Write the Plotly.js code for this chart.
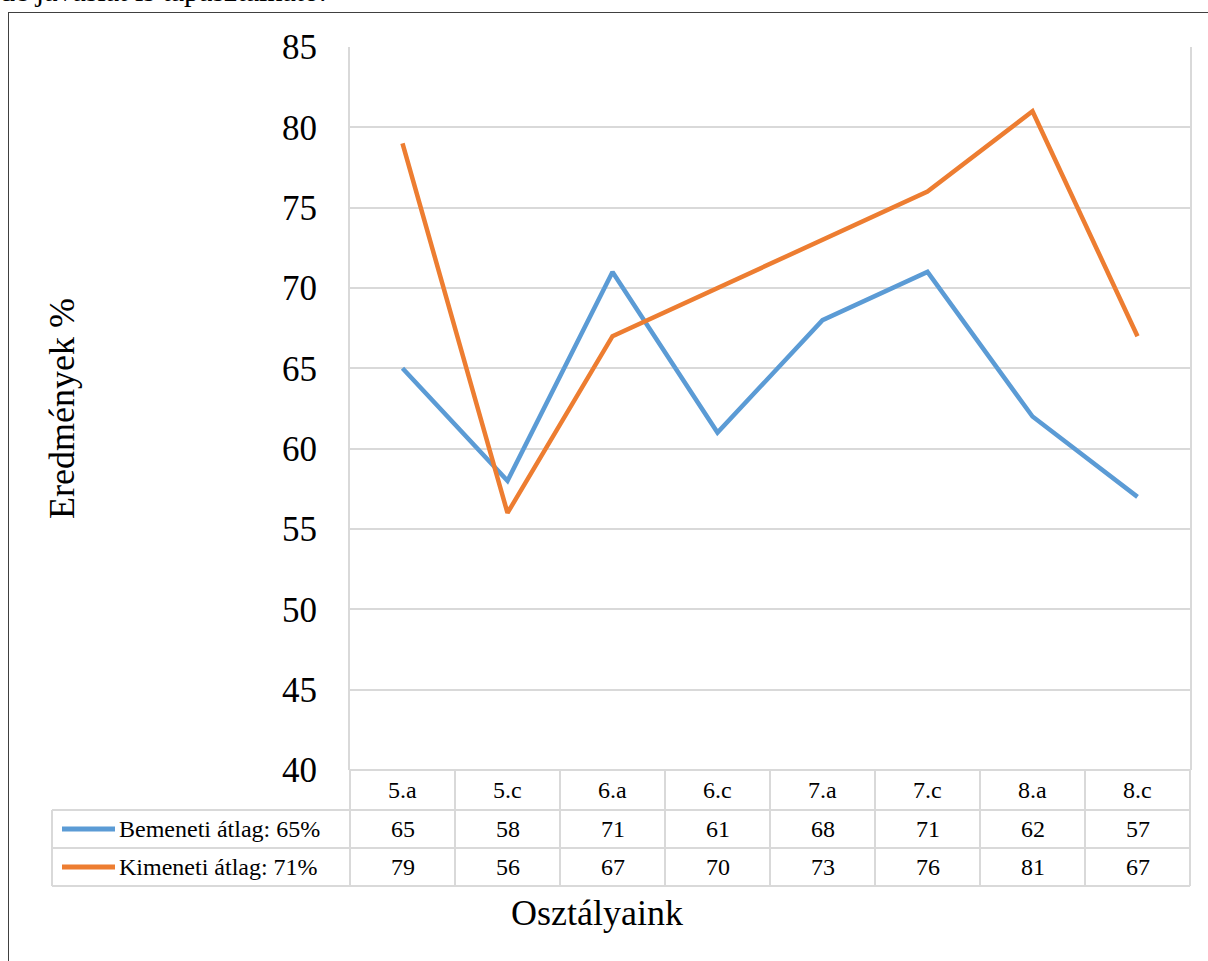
<!DOCTYPE html>
<html>
<head>
<meta charset="utf-8">
<script src="https://cdn.plot.ly/plotly-3.0.1.min.js"></script>
<style>
  html, body { margin: 0; padding: 0; background: #fff; overflow: hidden; }
  #wrap { position: relative; width: 1208px; height: 961px; }
  #chart { position: absolute; left: 0; top: 0; width: 1208px; height: 961px; }
  #frame { position: absolute; left: 8px; top: 12px; width: 1300px; height: 1100px;
           border: 1.5px solid #404040; pointer-events: none; }
  #lead { position: absolute; left: 0px; top: -26px; font-family: "Liberation Serif", serif;
          font-size: 30px; color: #000; white-space: nowrap; }
</style>
</head>
<body>
<div id="wrap">
  <div id="lead">de javaslat is tapasztalható.</div>
  <div id="chart"></div>
  <div id="frame"></div>
</div>
<script>
const categories = ["5.a", "5.c", "6.a", "6.c", "7.a", "7.c", "8.a", "8.c"];
const bemeneti = [65, 58, 71, 61, 68, 71, 62, 57];
const kimeneti = [79, 56, 67, 70, 73, 76, 81, 67];
const seriesNames = ["Bemeneti átlag: 65%", "Kimeneti átlag: 71%"];
const yTicks = [40, 45, 50, 55, 60, 65, 70, 75, 80, 85];

const BLUE = "#5B9BD5", ORANGE = "#ED7D31", GRID = "#D9D9D9";
const FONT = "Liberation Serif";

const W = 1208, H = 961;
const mL = 350, mR = 18, mT = 47, mB = 191;
const pw = W - mL - mR, ph = H - mT - mB;
const px = x => (x - mL) / pw;          // pixel -> paper x
const py = y => 1 - (y - mT) / ph;      // pixel -> paper y

const traces = [
  { x: categories, y: bemeneti, name: seriesNames[0], type: "scatter", mode: "lines",
    line: { color: BLUE, width: 4.5 }, showlegend: false },
  { x: categories, y: kimeneti, name: seriesNames[1], type: "scatter", mode: "lines",
    line: { color: ORANGE, width: 4.5 }, showlegend: false }
];

const rowLines = [770, 810, 848, 886];
const rowCenters = [790, 829, 867];
const n = categories.length;
const shapes = [];
const L = { color: GRID, width: 2 };
shapes.push({ type: "line", xref: "paper", yref: "paper", x0: 0, x1: 1, y0: py(rowLines[0]), y1: py(rowLines[0]), line: L });
for (let k = 1; k < rowLines.length; k++) {
  shapes.push({ type: "line", xref: "paper", yref: "paper", x0: px(52), x1: 1, y0: py(rowLines[k]), y1: py(rowLines[k]), line: L });
}
for (let i = 0; i <= n; i++) {
  shapes.push({ type: "line", xref: "paper", yref: "paper", x0: i / n, x1: i / n,
    y0: py(rowLines[0]), y1: py(rowLines[3]), line: L });
}
shapes.push({ type: "line", xref: "paper", yref: "paper", x0: px(52), x1: px(52),
  y0: py(rowLines[1]), y1: py(rowLines[3]), line: L });
[BLUE, ORANGE].forEach((c, r) => {
  shapes.push({ type: "line", xref: "paper", yref: "paper", x0: px(62), x1: px(115),
    y0: py(rowCenters[r + 1]), y1: py(rowCenters[r + 1]), line: { color: c, width: 5 } });
});

const annotations = [];
const cellFont = { family: FONT, size: 24, color: "#000" };
categories.forEach((c, i) => {
  annotations.push({ xref: "x", yref: "paper", x: c, y: py(rowCenters[0]), text: c,
    showarrow: false, font: cellFont, xanchor: "center", yanchor: "middle" });
  annotations.push({ xref: "x", yref: "paper", x: c, y: py(rowCenters[1]), text: String(bemeneti[i]),
    showarrow: false, font: cellFont, xanchor: "center", yanchor: "middle" });
  annotations.push({ xref: "x", yref: "paper", x: c, y: py(rowCenters[2]), text: String(kimeneti[i]),
    showarrow: false, font: cellFont, xanchor: "center", yanchor: "middle" });
});
seriesNames.forEach((s, r) => {
  annotations.push({ xref: "paper", yref: "paper", x: px(117), y: py(rowCenters[r + 1]), text: s,
    showarrow: false, font: cellFont, xanchor: "left", yanchor: "middle" });
});
annotations.push({ xref: "paper", yref: "paper", x: px(597), y: py(913), text: "Osztályaink",
  showarrow: false, font: { family: FONT, size: 36, color: "#000" }, xanchor: "center", yanchor: "middle" });

const layout = {
  width: W, height: H,
  margin: { l: mL, r: mR, t: mT, b: mB, pad: 0 },
  paper_bgcolor: "rgba(0,0,0,0)", plot_bgcolor: "rgba(0,0,0,0)",
  font: { family: FONT, color: "#000" },
  xaxis: { type: "category", range: [-0.5, n - 0.5], showticklabels: false, showgrid: false,
    zeroline: false, ticks: "", showline: false, fixedrange: true },
  yaxis: { range: [40, 85], tickvals: yTicks, ticktext: yTicks.map(String),
    showgrid: true, gridcolor: GRID, gridwidth: 2, zeroline: false,
    showline: true, mirror: true, linecolor: GRID, linewidth: 2,
    ticks: "", ticklabelstandoff: 24, tickfont: { family: FONT, size: 35, color: "#000" },
    title: { text: "Eredmények %", font: { family: FONT, size: 36, color: "#000" }, standoff: 196 },
    automargin: false, fixedrange: true },
  shapes: shapes,
  annotations: annotations,
  showlegend: false
};

Plotly.newPlot("chart", traces, layout, { displayModeBar: false, staticPlot: true });
</script>
</body>
</html>
